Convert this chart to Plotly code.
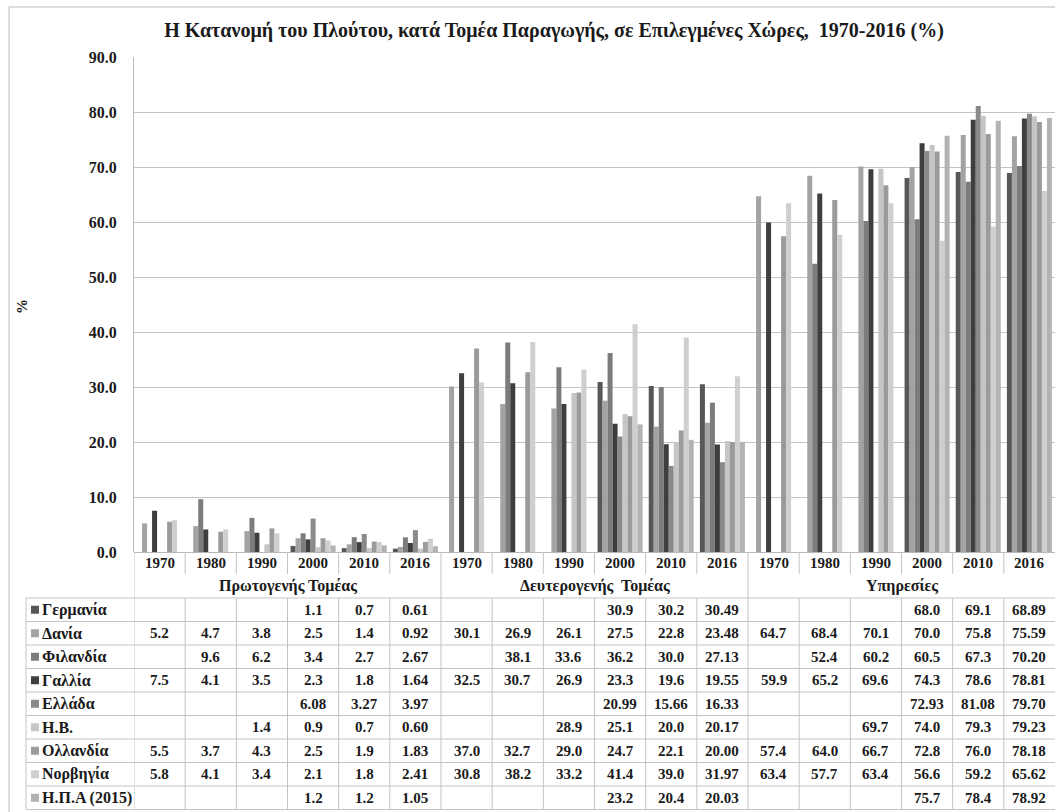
import plotly.graph_objects as go

# ---------------- data ----------------
years = ["1970", "1980", "1990", "2000", "2010", "2016"]
sectors = ["Πρωτογενής Τομέας", "Δευτερογενής  Τομέας", "Υπηρεσίες"]
countries = ["Γερμανία", "Δανία", "Φιλανδία", "Γαλλία", "Ελλάδα", "Η.Β.",
             "Ολλανδία", "Νορβηγία", "Η.Π.Α (2015)"]
colors = ["#575757", "#a3a3a3", "#7c7c7c", "#3e3e3e", "#8a8a8a", "#c6c6c6",
          "#9b9b9b", "#cfcfcf", "#b3b3b3"]

germany_vals = [None, None, None, 1.1, 0.7, 0.61,
                None, None, None, 30.9, 30.2, 30.49,
                None, None, None, 68.0, 69.1, 68.89]
denmark_vals = [5.2, 4.7, 3.8, 2.5, 1.4, 0.92,
                30.1, 26.9, 26.1, 27.5, 22.8, 23.48,
                64.7, 68.4, 70.1, 70.0, 75.8, 75.59]
finland_vals = [None, 9.6, 6.2, 3.4, 2.7, 2.67,
                None, 38.1, 33.6, 36.2, 30.0, 27.13,
                None, 52.4, 60.2, 60.5, 67.3, 70.20]
france_vals = [7.5, 4.1, 3.5, 2.3, 1.8, 1.64,
               32.5, 30.7, 26.9, 23.3, 19.6, 19.55,
               59.9, 65.2, 69.6, 74.3, 78.6, 78.81]
greece_vals = [None, None, None, 6.08, 3.27, 3.97,
               None, None, None, 20.99, 15.66, 16.33,
               None, None, None, 72.93, 81.08, 79.70]
uk_vals = [None, None, 1.4, 0.9, 0.7, 0.60,
           None, None, 28.9, 25.1, 20.0, 20.17,
           None, None, 69.7, 74.0, 79.3, 79.23]
netherlands_vals = [5.5, 3.7, 4.3, 2.5, 1.9, 1.83,
                    37.0, 32.7, 29.0, 24.7, 22.1, 20.00,
                    57.4, 64.0, 66.7, 72.8, 76.0, 78.18]
norway_vals = [5.8, 4.1, 3.4, 2.1, 1.8, 2.41,
               30.8, 38.2, 33.2, 41.4, 39.0, 31.97,
               63.4, 57.7, 63.4, 56.6, 59.2, 65.62]
usa_vals = [None, None, None, 1.2, 1.2, 1.05,
            None, None, None, 23.2, 20.4, 20.03,
            None, None, None, 75.7, 78.4, 78.92]

series = [germany_vals, denmark_vals, finland_vals, france_vals, greece_vals,
          uk_vals, netherlands_vals, norway_vals, usa_vals]

# ---------------- layout geometry (pixels) ----------------
W, H = 1055, 812
L, R, T, B = 134, 0, 57, 260
PW = W - L - R
PH = H - T - B
Y0 = T + PH  # pixel y of value 0


def px_x(px):
    return (px - L) / PW


def px_y(py):
    return (Y0 - py) / PH


FONT = "Liberation Serif, Times New Roman, serif"
TXT = "#1a1a1a"
LINE = "#c4c4c4"

n_cat = len(years) * len(sectors)
xs = list(range(n_cat))
year_labels = years * len(sectors)

fig = go.Figure()
for name, vals, col in zip(countries, series, colors):
    fig.add_trace(go.Bar(x=xs, y=vals, name=name, marker_color=col,
                         marker_line_width=0, showlegend=False, hoverinfo="skip"))

annotations = []
shapes = []


def ann(x, y, text, xref="x", size=15, xanchor="center", **kw):
    d = dict(x=x, y=y, xref=xref, yref="paper", text=text, showarrow=False,
             xanchor=xanchor, yanchor="middle",
             font=dict(family=FONT, size=size, color=TXT))
    d.update(kw)
    annotations.append(d)


# year row
for i, yl in enumerate(year_labels):
    ann(i, px_y(563), "<b>%s</b>" % yl)
# sector row
for g, s in enumerate(sectors):
    ann(g * 6 + 2.5, px_y(586), "<b>%s</b>" % s, size=16)

row_top = 598
row_h = 23.5
for r, (name, vals, col) in enumerate(zip(countries, series, colors)):
    ycp = row_top + row_h * (r + 0.5)
    yc = px_y(ycp)
    shapes.append(dict(type="rect", xref="paper", yref="paper",
                       x0=px_x(31), x1=px_x(39), y0=px_y(ycp - 4), y1=px_y(ycp + 4),
                       fillcolor=col, line=dict(width=0)))
    ann(px_x(40), yc, "<b>%s</b>" % name, xref="paper", size=16, xanchor="left")
    for i, v in enumerate(vals):
        if v is None:
            continue
        dec = 2 if (year_labels[i] == "2016" or name == "Ελλάδα") else 1
        ann(i, yc, "<b>%.*f</b>" % (dec, v))

# table lines
bottom = row_top + row_h * len(countries)
for r in range(len(countries) + 1):
    yy = px_y(row_top + row_h * r)
    shapes.append(dict(type="line", xref="paper", yref="paper",
                       x0=px_x(26), x1=1, y0=yy, y1=yy,
                       line=dict(color=LINE, width=1)))
shapes.append(dict(type="line", xref="paper", yref="paper",
                   x0=px_x(26), x1=px_x(26), y0=px_y(row_top), y1=px_y(bottom),
                   line=dict(color=LINE, width=1)))
for b in range(n_cat + 1):
    xb = b - 0.5
    if 0 < b < n_cat:
        shapes.append(dict(type="line", xref="x", yref="paper", x0=xb, x1=xb,
                           y0=px_y(Y0), y1=px_y(574 if b % 6 else row_top),
                           line=dict(color=LINE, width=1)))
    if b == 0:
        shapes.append(dict(type="line", xref="x", yref="paper", x0=xb, x1=xb,
                           y0=px_y(Y0), y1=px_y(row_top),
                           line=dict(color=LINE, width=1)))
    if b < n_cat:
        shapes.append(dict(type="line", xref="x", yref="paper", x0=xb, x1=xb,
                           y0=px_y(row_top), y1=px_y(bottom),
                           line=dict(color=LINE, width=1)))

# outer chart frame
shapes.append(dict(type="line", xref="paper", yref="paper",
                   x0=px_x(9), x1=px_x(1060), y0=px_y(7), y1=px_y(7),
                   line=dict(color="#d0d0d0", width=1.5)))
shapes.append(dict(type="line", xref="paper", yref="paper",
                   x0=px_x(9), x1=px_x(9), y0=px_y(7), y1=px_y(820),
                   line=dict(color="#d0d0d0", width=1.5)))

# y axis title
ann(px_x(22), px_y(307), "<b>%</b>", xref="paper", textangle=-90)

fig.update_layout(
    width=W, height=H,
    margin=dict(l=L, r=R, t=T, b=B, autoexpand=False),
    paper_bgcolor="white", plot_bgcolor="white",
    barmode="group", bargap=0.12, bargroupgap=0,
    hovermode=False,
    title=dict(text="<b>Η Κατανομή του Πλούτου, κατά Τομέα Παραγωγής, σε Επιλεγμένες Χώρες,  1970-2016 (%)</b>",
               x=554 / W, xanchor="center", y=1 - 30 / H, yanchor="middle",
               font=dict(family=FONT, size=20, color=TXT)),
    xaxis=dict(range=[-0.5, n_cat - 0.5], showticklabels=False, showgrid=False,
               zeroline=False, showline=False, ticks=""),
    yaxis=dict(range=[0, 90], dtick=10, tickformat=".1f", showgrid=True,
               gridcolor="#c4c4c4", gridwidth=1, zeroline=True,
               zerolinecolor="#b8b8b8", zerolinewidth=1,
               showline=True, linecolor="#b8b8b8", linewidth=1,
               ticks="", ticklabelstandoff=13,
               tickfont=dict(family=FONT, size=16, color=TXT, weight="bold")),
    annotations=annotations, shapes=shapes,
)

fig.write_html("out.html", config={"displayModeBar": False, "staticPlot": True},
               post_script="document.body.style.margin='0';document.body.style.overflow='hidden';")
